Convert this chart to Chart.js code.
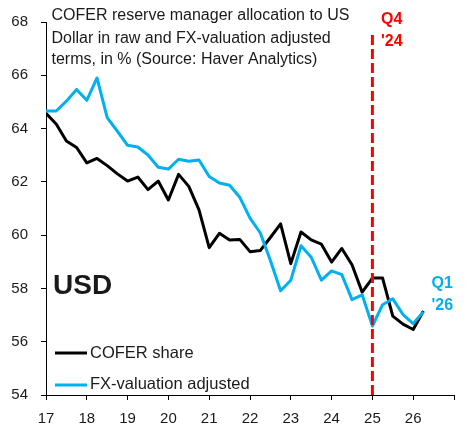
<!DOCTYPE html>
<html>
<head>
<meta charset="utf-8">
<script src="https://cdn.jsdelivr.net/npm/chart.js@4"></script>
<style>
html,body{margin:0;padding:0;background:#fff;}
#wrap{width:467px;height:436px;}
</style>
</head>
<body>
<div id="wrap"><canvas id="c" width="467" height="436"></canvas></div>
<script>
// Quarters Q4'16 .. Q1'26 (x position = year + quarter offset)
const quarters = ["Q4'16","Q1'17","Q2'17","Q3'17","Q4'17","Q1'18","Q2'18","Q3'18","Q4'18",
  "Q1'19","Q2'19","Q3'19","Q4'19","Q1'20","Q2'20","Q3'20","Q4'20","Q1'21","Q2'21","Q3'21","Q4'21",
  "Q1'22","Q2'22","Q3'22","Q4'22","Q1'23","Q2'23","Q3'23","Q4'23","Q1'24","Q2'24","Q3'24","Q4'24",
  "Q1'25","Q2'25","Q3'25","Q4'25","Q1'26"];
const coferShare = [64.57,64.17,63.53,63.29,62.71,62.88,62.61,62.30,62.03,62.18,61.71,62.03,61.32,
  62.28,61.83,60.95,59.53,60.07,59.82,59.84,59.38,59.42,59.91,60.42,58.93,60.12,59.82,59.66,58.99,
  59.50,58.89,57.86,58.39,58.39,56.96,56.66,56.46,57.15];
const fxAdjusted = [64.66,64.66,65.03,65.47,65.06,65.90,64.41,63.90,63.37,63.31,63.01,62.55,62.48,
  62.85,62.77,62.82,62.20,61.96,61.87,61.42,60.64,60.09,59.05,57.91,58.31,59.60,59.17,58.31,58.66,
  58.52,57.58,57.76,56.59,57.39,57.61,57.02,56.68,57.12];
const xTickLabels = ["17","18","19","20","21","22","23","24","25","26"];
const yTickValues = [54,56,58,60,62,64,66,68];
const markerQuarter = "Q4'24";

function qToX(q){
  const yr = parseInt(q.slice(3),10);
  const qn = parseInt(q.charAt(1),10);
  return yr + qn/4;
}
const blackPts = quarters.map((q,i)=>({x:qToX(q), y:coferShare[i]}));
const bluePts = quarters.map((q,i)=>({x:qToX(q), y:fxAdjusted[i]}));
const mx = qToX(markerQuarter);
const markerPts = [{x:mx,y:54},{x:mx,y:67.65}];

const FONT = "'Liberation Sans', Arial, sans-serif";
const BLUE = '#00B0F0', RED = '#FF0000', TXT = '#1a1a1a';

const annot = {
  id:'annot',
  afterDatasetsDraw(chart){
    const ctx = chart.ctx;
    ctx.save();
    ctx.textAlign = 'left';
    ctx.textBaseline = 'alphabetic';
    ctx.fillStyle = TXT;
    ctx.font = '16px ' + FONT;
    ctx.fillText('COFER reserve manager allocation to US', 51.5, 20);
    ctx.fillText('Dollar in raw and FX-valuation adjusted', 51.5, 42.5);
    ctx.fillText('terms, in % (Source: Haver Analytics)', 51.5, 63.5);
    ctx.font = 'bold 28px ' + FONT;
    ctx.fillText('USD', 53, 293.5);
    ctx.font = 'bold 16px ' + FONT;
    ctx.fillStyle = RED;
    ctx.fillText('Q4', 381, 24);
    ctx.fillText("'24", 381, 46);
    ctx.fillStyle = BLUE;
    ctx.fillText('Q1', 431.5, 287.5);
    ctx.fillText("'26", 431.5, 309.5);
    // legend
    ctx.lineWidth = 3;
    ctx.strokeStyle = '#000';
    ctx.beginPath(); ctx.moveTo(55,353); ctx.lineTo(87,353); ctx.stroke();
    ctx.strokeStyle = BLUE;
    ctx.beginPath(); ctx.moveTo(55,385); ctx.lineTo(87,385); ctx.stroke();
    ctx.font = '16.5px ' + FONT;
    ctx.fillStyle = TXT;
    ctx.textBaseline = 'middle';
    ctx.fillText('COFER share', 90, 353);
    ctx.fillText('FX-valuation adjusted', 90, 384);
    ctx.restore();
  }
};

new Chart(document.getElementById('c'), {
  type:'line',
  data:{
    datasets:[
      {label:'Q4 24', data:markerPts, borderColor:RED, borderWidth:3, borderDash:[10,4], pointRadius:0, fill:false},
      {label:'FX-valuation adjusted', data:bluePts, borderColor:BLUE, borderWidth:3, pointRadius:0, tension:0, borderJoinStyle:'round', fill:false},
      {label:'COFER share', data:blackPts, borderColor:'#000', borderWidth:3, pointRadius:0, tension:0, borderJoinStyle:'round', fill:false}
    ]
  },
  options:{
    responsive:false,
    animation:false,
    devicePixelRatio:1,
    layout:{padding:{left:0, right:13, top:15, bottom:0}},
    plugins:{legend:{display:false}, tooltip:{enabled:false}, title:{display:false}},
    scales:{
      x:{
        type:'linear', min:17, max:27,
        afterFit(s){ s.height = 41; },
        ticks:{stepSize:1, autoSkip:false, maxRotation:0, padding:10,
          color:TXT, font:{family:FONT, size:15},
          callback(v){ const i = Math.round(v) - 17; return xTickLabels[i] !== undefined ? xTickLabels[i] : ''; }},
        grid:{display:true, drawOnChartArea:false, drawTicks:true, tickLength:5, tickColor:'#000', tickWidth:1},
        border:{display:true, color:'#000', width:1}
      },
      y:{
        type:'linear', min:54, max:68,
        afterFit(s){ s.width = 46; },
        afterBuildTicks(s){ s.ticks = yTickValues.map(v=>({value:v})); },
        ticks:{padding:13, color:TXT, font:{family:FONT, size:15}},
        grid:{display:true, drawOnChartArea:false, drawTicks:true, tickLength:5, tickColor:'#000', tickWidth:1},
        border:{display:true, color:'#000', width:1}
      }
    }
  },
  plugins:[annot]
});
</script>
</body>
</html>
